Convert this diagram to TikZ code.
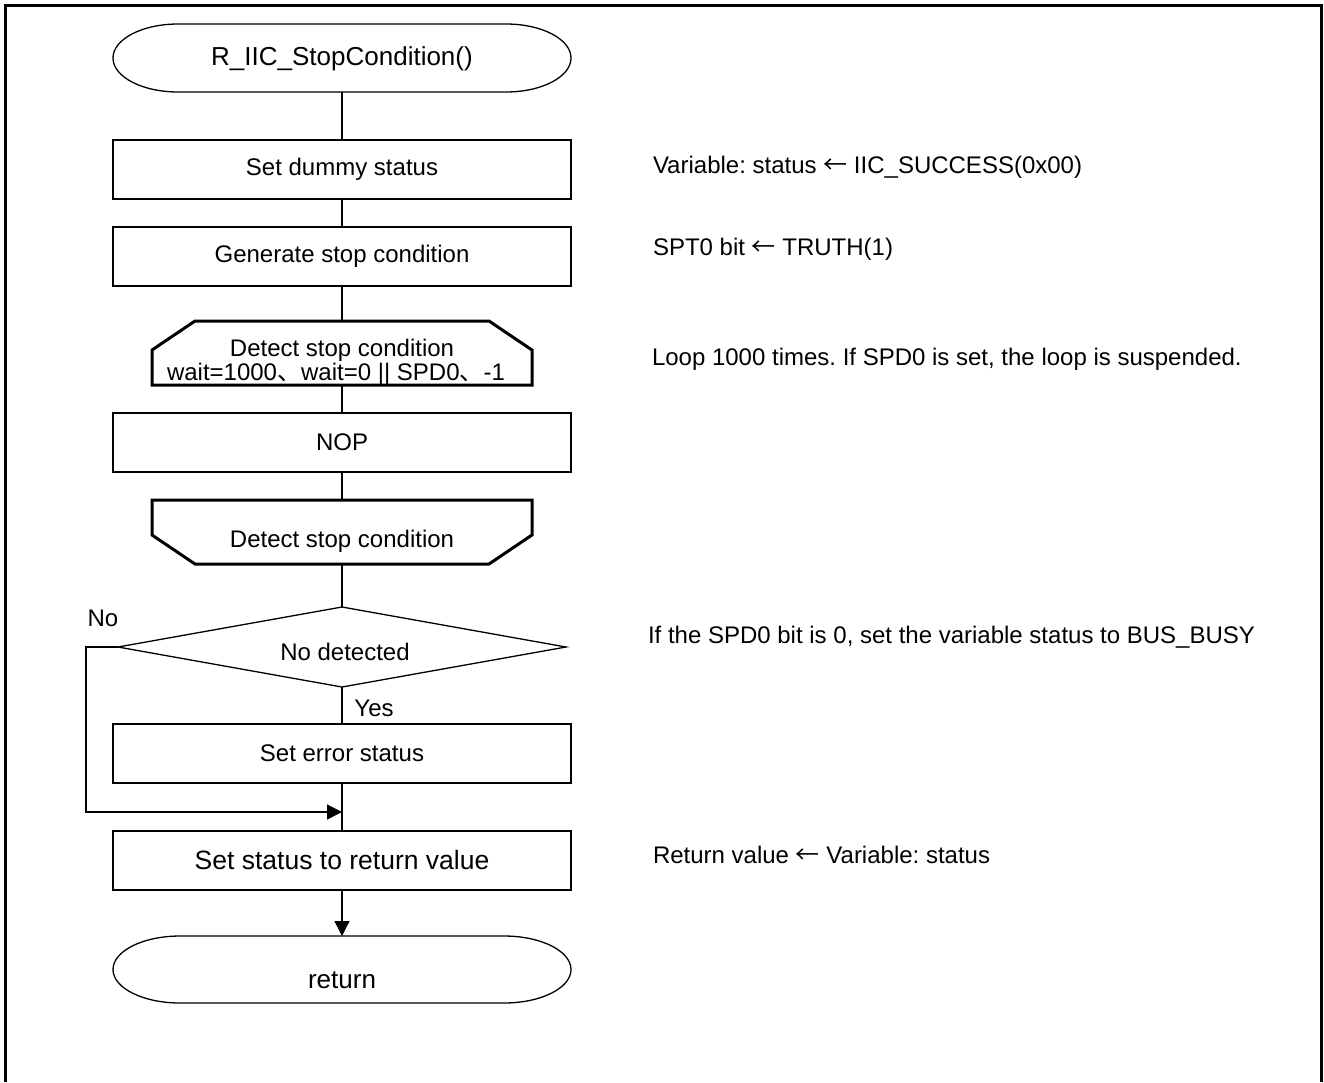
\documentclass[tikz,border=0pt]{standalone}
\usepackage{fontspec}
\setmainfont{Liberation Sans}
\newfontfamily\cjkfont{Noto Sans CJK JP}
\newcommand\larr{{\cjkfont ←}}
\usetikzlibrary{arrows.meta}
\frenchspacing
\begin{document}
\frenchspacing
\begin{tikzpicture}[x=1pt,y=-1pt,
  every node/.style={inner sep=0pt,outer sep=0pt},
  flow/.style={line width=1.3pt},
  thickline/.style={line width=3pt,line join=miter},
  box/.style={draw,line width=1.3pt,minimum width=458pt,minimum height=59pt,font=\fontsize{24pt}{28pt}\selectfont},
  bigbox/.style={box,font=\fontsize{26.5pt}{30pt}\selectfont},
  termshape/.style={minimum width=458pt,minimum height=68pt},
  hexshape/.style={minimum width=380pt,minimum height=64pt},
  decshape/.style={minimum width=448pt,minimum height=80pt},
  lbl/.style={font=\fontsize{24pt}{28pt}\selectfont},
  termlbl/.style={font=\fontsize{26pt}{30pt}\selectfont},
  note/.style={anchor=base west,font=\fontsize{24pt}{28pt}\selectfont},
  arr/.style={-{Triangle[length=15pt,width=15pt]}}
]
\useasboundingbox (0,0) rectangle (1324,1082);
% frame
\draw[line width=3pt] (5,1082) -- (5,5) -- (1321.5,5) -- (1321.5,1082);

% start terminator
\node[termshape] (start) at (342,58) {};
\draw[flow] ([xshift=65pt]start.north west) -- ([xshift=-65pt]start.north east)
  arc[start angle=90,end angle=-90,x radius=65pt,y radius=34pt]
  -- ([xshift=65pt]start.south west)
  arc[start angle=270,end angle=90,x radius=65pt,y radius=34pt] -- cycle;
\node[termlbl,anchor=base] (starttxt) at (342,65) {R\_IIC\_StopCondition()};

% boxes
\node[box] (b1) at (342,169.5) {Set dummy status};
\node[box] (b2) at (342,256.5) {Generate stop condition};

% loop start hexagon
\node[hexshape] (ls) at (342,353) {};
\draw[thickline] ([xshift=43pt]ls.north west) -- ([xshift=-43pt]ls.north east)
  -- ([yshift=-29pt]ls.north east) -- (ls.south east) -- (ls.south west)
  -- ([yshift=-29pt]ls.north west) -- cycle;
\node[lbl,anchor=base] (lsa) at (342,356) {Detect stop condition};
\node[lbl,anchor=base] (lsb) at (336,380) {wait=1000{\cjkfont 、}wait=0 || SPD0{\cjkfont 、}-1};

\node[box] (nop) at (342,442.5) {NOP};

% loop end hexagon
\node[hexshape] (le) at (342,532) {};
\draw[thickline] (le.north west) -- (le.north east)
  -- ([yshift=29pt]le.south east) -- ([xshift=-43pt]le.south east)
  -- ([xshift=43pt]le.south west) -- ([yshift=29pt]le.south west) -- cycle;
\node[lbl,anchor=base] (letxt) at (342,547) {Detect stop condition};

% decision
\node[decshape] (dec) at (342,647) {};
\draw[flow] (dec.north) -- (dec.east) -- (dec.south) -- (dec.west) -- cycle;
\node[lbl,anchor=base] (dectxt) at (345,660) {No detected};
\node[lbl] (yes) at (374,708) {Yes};
\node[lbl] (no) at (103,618) {No};

\node[box] (err) at (342,753.5) {Set error status};
\node[bigbox] (ret) at (342,860.5) {Set status to return value};

% end terminator
\node[termshape,minimum height=67pt] (stop) at (342,969.5) {};
\draw[flow] ([xshift=67pt]stop.north west) -- ([xshift=-67pt]stop.north east)
  arc[start angle=90,end angle=-90,x radius=67pt,y radius=33.5pt]
  -- ([xshift=67pt]stop.south west)
  arc[start angle=270,end angle=90,x radius=67pt,y radius=33.5pt] -- cycle;
\node[termlbl,anchor=base] (stoptxt) at (342,988) {return};

% connectors
\coordinate (join) at (342,812);
\draw[flow] (start.south) -- (b1.north);
\draw[flow] (b1.south) -- (b2.north);
\draw[flow] (b2.south) -- (ls.north);
\draw[flow] (ls.south) -- (nop.north);
\draw[flow] (nop.south) -- (le.north);
\draw[flow] (le.south) -- (dec.north);
\draw[flow] (dec.south) -- (err.north);
\draw[flow] (err.south) -- (ret.north);
\draw[flow,arr] (dec.west) -- ([xshift=-32pt]dec.west) |- (join);
\draw[flow,arr] (ret.south) -- (stop.north);

% notes
\node[note] (n1) at (653,173) {Variable: status \larr{} IIC\_SUCCESS(0x00)};
\node[note] (n2) at (653,255) {SPT0 bit \larr{} TRUTH(1)};
\node[note] (n3) at (652,365) {Loop 1000 times. If SPD0 is set, the loop is suspended.};
\node[note] (n4) at (648,643) {If the SPD0 bit is 0, set the variable status to BUS\_BUSY};
\node[note] (n5) at (653,863) {Return value \larr{} Variable: status};
\end{tikzpicture}
\end{document}
